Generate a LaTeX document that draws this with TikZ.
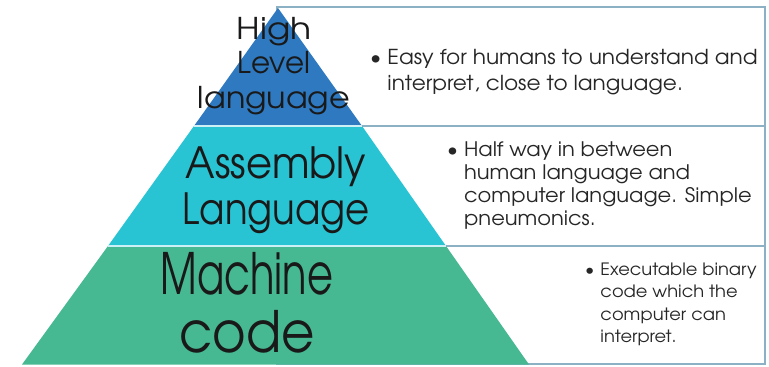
\documentclass[tikz,border=0pt]{standalone}
\usepackage{fontspec}
\setmainfont{texgyreadventor-regular.otf}
\usepackage{graphicx}
\usepackage{tikz}
\usetikzlibrary{positioning}
\definecolor{tiertop}{RGB}{46,121,192}
\definecolor{tiermid}{RGB}{40,196,212}
\definecolor{tierlow}{RGB}{70,184,146}
\definecolor{tiergap}{RGB}{205,240,246}
\definecolor{boxline}{RGB}{140,176,196}

% bullet followed by a block of lines
\newcommand{\pointlist}[1]{%
	\begin{tabular}{@{}l@{\hspace{6pt}}l@{}}\textbullet &
		\begin{tabular}[t]{@{}l@{}}#1\end{tabular}\end{tabular}}
% widen or narrow one line of a label
\newcommand{\hstretch}[2]{\scalebox{#1}[1]{#2}}

\begin{document}
\begin{tikzpicture} [
		x=1pt, y=-1pt,
		infobox/.style = { draw=boxline, line width=1.5pt, fill=white },
		gap/.style     = { draw=tiergap, line width=2pt },
		label/.style   = { inner sep=0pt, align=center, text=black!90 },
		info/.style    = { inner sep=0pt, anchor=west, text=black!85,
			font=\fontsize{#1}{1.15\dimexpr#1pt\relax}\selectfont\addfontfeatures{FakeStretch=1.05} },
		]
		\useasboundingbox (0,0) rectangle (769,367);
		% boxes for the descriptions, behind the pyramid
		\draw[infobox] (277,7) rectangle (765,126);
		\draw[infobox] (277,126) rectangle (765,246);
		\draw[infobox] (277,246) rectangle (765,364);
		% the three tiers
		\fill[tiertop] (278,8) -- (362,126) -- (194,126) -- cycle;
		\fill[tiermid] (194,126) -- (362,126) -- (446,246) -- (108,246) -- cycle;
		\fill[tierlow] (108,246) -- (446,246) -- (529,364.5) -- (22,364.5) -- cycle;
		\draw[gap] (194,126) -- (362,126);
		\draw[gap] (108,246) -- (446,246);
		% tier names
		\node[label, font=\fontsize{30}{34.5}\selectfont] (high) at (274,66)
			{\hstretch{1.15}{High}\\\hstretch{0.98}{Level}\\\hstretch{1.06}{language}};
		\node[label, font=\fontsize{43}{42}\selectfont] (asm) at (276,190)
			{\hstretch{0.93}{Assembly}\\[4pt]\hstretch{0.86}{Language}};
		\node[label, font=\fontsize{57}{50}\selectfont] (mach) at (247,303)
			{\hstretch{0.7}{Machine}\\[8pt]\hstretch{0.9}{code}};
		% descriptions
		\node[info=20.6] (easy) at (370,73) {\pointlist{Easy for humans to understand and\\[2pt]interpret, close to language.}};
		\node[info=20] (half) at (447,186) {\pointlist{Half way in between\\human language and\\computer language. Simple\\pneumonics.}};
		\node[info=17] (exec) at (585,305) {\pointlist{Executable binary\\[3pt]code which the\\[3pt]computer can\\[3pt]interpret.}};
\end{tikzpicture}
\end{document}
